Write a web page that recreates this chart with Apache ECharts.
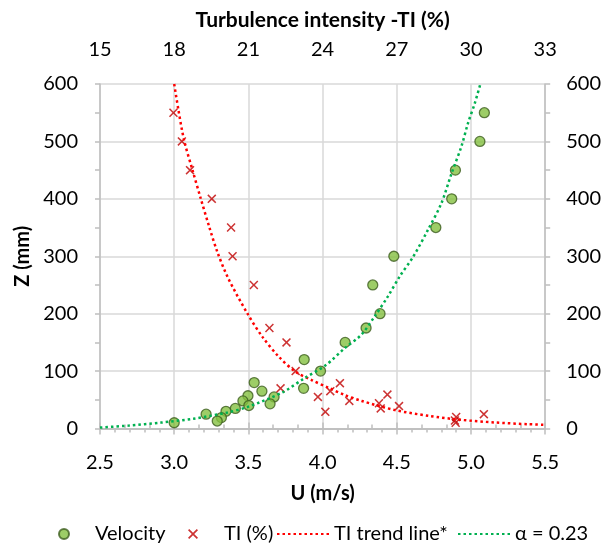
<!DOCTYPE html>
<html>
<head>
<meta charset="utf-8">
<script src="https://cdn.jsdelivr.net/npm/echarts@6/dist/echarts.min.js"></script>
<style>html,body{margin:0;padding:0;background:#fff}#c{width:604px;height:544px}</style>
</head>
<body>
<div id="c"></div>
<script>
// Velocity measurements: [U (m/s), Z (mm)]
var velocityData = [
  [5.09,550],[5.06,500],[4.895,450],[4.87,400],[4.763,350],[4.48,300],[4.338,250],
  [4.387,200],[4.293,175],[4.152,150],[3.876,120],[3.986,100],[3.539,80],[3.872,70],
  [3.591,65],[3.497,57],[3.673,55],[3.463,48],[3.646,43],[3.503,40],[3.412,35],
  [3.349,30],[3.215,25],[3.318,19],[3.29,13],[3.0,10]
];
// Turbulence intensity measurements: [TI (%), Z (mm)]
var tiData = [
  [17.97,550],[18.31,500],[18.64,450],[19.52,400],[20.3,350],[20.36,300],[21.22,250],
  [21.85,175],[22.54,150],[22.91,100],[24.7,79],[22.3,70],[24.31,65],[26.62,59],
  [23.81,55],[25.08,48],[26.28,44],[27.09,39],[26.35,35],[24.11,29],[30.52,25],
  [29.4,20],[29.35,14],[29.38,10]
];
// TI trend line: [TI (%), Z (mm)]
var tiTrend = [
  [18.0,600],[18.17,555],[18.4,502],[18.74,450],[19.07,401],[19.41,352],[19.74,308],
  [20.18,262],[20.95,201],[21.56,160],[22.23,125],[22.9,99],[23.57,84],[24.24,71],
  [24.91,58],[25.58,48],[26.93,32],[28.3,22],[29.61,15],[30.96,10.5],[32.3,7.5],[33.0,6.5]
];
// alpha = 0.23 profile: [U (m/s), Z (mm)]
var alphaTrend = [
  [2.5,1.6],[2.69,5],[2.91,10.3],[3.13,17],[3.36,28],[3.5,38],[3.73,63],[3.88,88],
  [4.02,110],[4.15,140],[4.26,163],[4.35,195],[4.44,230],[4.52,265],[4.61,299],
  [4.71,346],[4.8,392],[4.87,445],[4.935,491],[4.98,532],[5.025,566],[5.063,600]
];
var seriesNames = ['Velocity','TI (%)','TI trend line*','α = 0.23'];
var uTicks = {min:2.5, max:5.5, interval:0.5};
var tiTicks = {min:15, max:33, interval:3};
var zTicks = {min:0, max:600, interval:100};

var FONT = 'Lato';
var axisGray = '#bfbfbf';
var gridGray = '#d9d9d9';
var xMark = 'path://M1.2,0L5,3.8L8.8,0L10,1.2L6.2,5L10,8.8L8.8,10L5,6.2L1.2,10L0,8.8L3.8,5L0,1.2Z';

function legendAt(name, left, hideSymbol) {
  var l = {
    top:519, left:left, itemWidth:52, itemHeight:10, itemGap:0,
    textStyle:{fontFamily:FONT, fontSize:20, color:'#000'},
    data:[name]
  };
  if (hideSymbol) l.itemStyle = {opacity:0};
  return l;
}

var chart = echarts.init(document.getElementById('c'), null, {renderer:'canvas'});
chart.setOption({
  animation:false,
  textStyle:{fontFamily:FONT},
  grid:{left:100, right:56, top:84, bottom:115.5, containLabel:false},
  xAxis:[{
    type:'value', position:'bottom', min:uTicks.min, max:uTicks.max, interval:uTicks.interval,
    name:'U (m/s)', nameLocation:'middle', nameGap:55,
    nameTextStyle:{fontFamily:FONT, fontSize:20, fontWeight:'bold', color:'#000'},
    axisLine:{show:true, lineStyle:{color:axisGray, width:1.5}},
    axisTick:{show:true, length:6, lineStyle:{color:axisGray, width:1.5}},
    minorTick:{show:true, splitNumber:5, length:4, lineStyle:{color:axisGray, width:1.5}},
    axisLabel:{margin:24, fontFamily:FONT, fontSize:20, color:'#000', formatter:function(v){return v.toFixed(1);}},
    splitLine:{show:true, lineStyle:{color:gridGray, width:1.5}}
  },{
    type:'value', position:'top', min:tiTicks.min, max:tiTicks.max, interval:tiTicks.interval,
    name:'Turbulence intensity -TI (%)', nameLocation:'middle', nameGap:53,
    nameTextStyle:{fontFamily:FONT, fontSize:21, fontWeight:'bold', color:'#000'},
    axisLine:{show:true, lineStyle:{color:axisGray, width:1.5}},
    axisTick:{show:true, length:6, lineStyle:{color:axisGray, width:1.5}},
    minorTick:{show:true, splitNumber:3, length:4, lineStyle:{color:axisGray, width:1.5}},
    axisLabel:{margin:24, fontFamily:FONT, fontSize:20, color:'#000'},
    splitLine:{show:false}
  }],
  yAxis:[{
    type:'value', position:'left', min:zTicks.min, max:zTicks.max, interval:zTicks.interval,
    name:'Z (mm)', nameLocation:'middle', nameGap:63,
    nameTextStyle:{fontFamily:FONT, fontSize:20, fontWeight:'bold', color:'#000'},
    axisLine:{show:true, lineStyle:{color:axisGray, width:1.5}},
    axisTick:{show:true, length:5, lineStyle:{color:axisGray, width:1.5}},
    minorTick:{show:true, splitNumber:2, length:5, lineStyle:{color:axisGray, width:1.5}},
    axisLabel:{margin:22, fontFamily:FONT, fontSize:20, color:'#000'},
    splitLine:{show:true, lineStyle:{color:gridGray, width:1.5}}
  },{
    type:'value', position:'right', min:zTicks.min, max:zTicks.max, interval:zTicks.interval,
    axisLine:{show:true, lineStyle:{color:axisGray, width:1.5}},
    axisTick:{show:true, length:5, lineStyle:{color:axisGray, width:1.5}},
    minorTick:{show:true, splitNumber:2, length:5, lineStyle:{color:axisGray, width:1.5}},
    axisLabel:{margin:21, fontFamily:FONT, fontSize:20, color:'#000'},
    splitLine:{show:false}
  }],
  legend:[
    legendAt(seriesNames[0], 53, false),
    legendAt(seriesNames[1], 183, false),
    legendAt(seriesNames[2], 271, true),
    legendAt(seriesNames[3], 452, true)
  ],
  series:[{
    name:seriesNames[0], type:'scatter', xAxisIndex:0, yAxisIndex:0, data:velocityData,
    symbol:'circle', symbolSize:10, z:3,
    itemStyle:{color:'#84c041', borderColor:'#3d5e1f', borderWidth:1.3}
  },{
    name:seriesNames[1], type:'scatter', xAxisIndex:1, yAxisIndex:0, data:tiData,
    symbol:xMark, symbolSize:9, z:3,
    itemStyle:{color:'#c00000'}
  },{
    name:seriesNames[2], type:'line', xAxisIndex:1, yAxisIndex:0, data:tiTrend,
    showSymbol:false, symbol:'none', smooth:0.3, z:4,
    lineStyle:{color:'#ff0000', width:2.5, type:[2.5,3]},
    itemStyle:{color:'#ff0000'}
  },{
    name:seriesNames[3], type:'line', xAxisIndex:0, yAxisIndex:0, data:alphaTrend,
    showSymbol:false, symbol:'none', smooth:0.3, z:4,
    lineStyle:{color:'#00b050', width:2.5, type:[2.5,3]},
    itemStyle:{color:'#00b050'}
  }]
});
</script>
</body>
</html>
